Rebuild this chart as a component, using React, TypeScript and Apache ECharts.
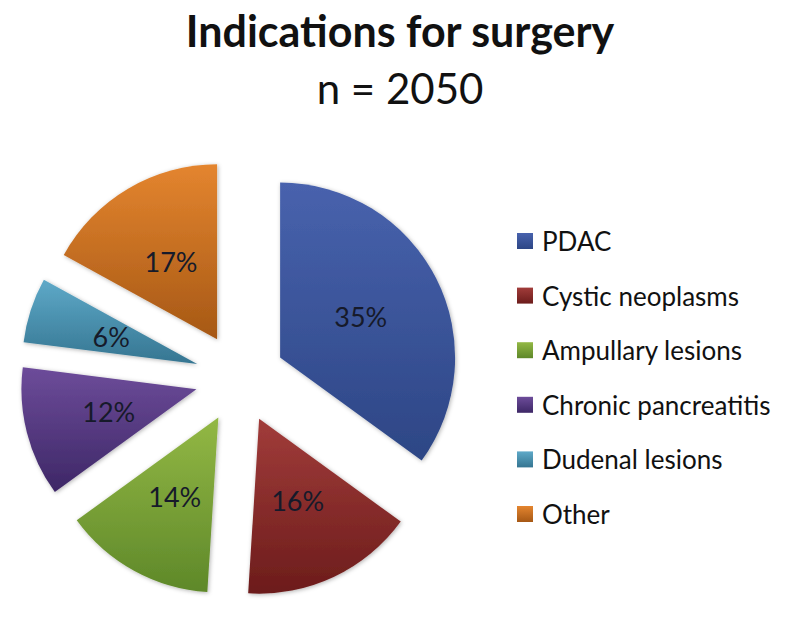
import React, { useEffect, useRef } from "react";
import * as echarts from "echarts";

const categories = ["PDAC", "Cystic neoplasms", "Ampullary lesions", "Chronic pancreatitis", "Dudenal lesions", "Other"];
const values = [35, 16, 14, 12, 6, 17];
const topColors = ["#4862ad", "#a13c3a", "#93b845", "#6d4c9a", "#5ea9c8", "#e4852f"];
const bottomColors = ["#2d4685", "#6c1c1b", "#5e8829", "#3d2766", "#357591", "#a65815"];
const titleText = "Indications for surgery";
const subtitleText = "n = 2050";

const FONT = "Lato, 'Open Sans', sans-serif";

export default function App() {
  const ref = useRef<HTMLDivElement>(null);
  useEffect(() => {
    document.body.style.margin = "0";
    const chart = echarts.init(ref.current!, null, { renderer: "svg" });
    const data = categories.map((name, i) => ({
      name,
      value: values[i],
      selected: true,
      itemStyle: {
        color: new echarts.graphic.LinearGradient(0, 0, 0, 1, [
          { offset: 0, color: topColors[i] },
          { offset: 1, color: bottomColors[i] },
        ]),
      },
    }));
    chart.setOption({
      animation: false,
      backgroundColor: "#ffffff",
      title: [
        {
          text: titleText,
          left: "center",
          top: 4,
          textStyle: { fontFamily: FONT, fontSize: 43, fontWeight: "bold", color: "#111" },
        },
        {
          text: subtitleText,
          left: "center",
          top: 62,
          textStyle: { fontFamily: FONT, fontSize: 42, fontWeight: "normal", color: "#111" },
        },
      ],
      legend: {
        orient: "vertical",
        left: 512,
        top: 223,
        itemWidth: 16,
        itemHeight: 16,
        itemGap: 28.6,
        icon: "rect",
        selectedMode: false,
        textStyle: { fontFamily: FONT, fontSize: 26, color: "#111", lineHeight: 26, padding: [0, 0, 0, 4] },
        data: categories,
      },
      series: [
        {
          type: "pie",
          center: [240, 378],
          radius: [0, 175],
          startAngle: 90,
          clockwise: true,
          selectedMode: "multiple",
          selectedOffset: 45,
          label: {
            show: true,
            position: "inside",
            formatter: (p: any) => p.value + "%",
            fontFamily: FONT,
            fontSize: 27,
            color: "#161a2a",
          },
          labelLine: { show: false },
          itemStyle: {
            shadowBlur: 4,
            shadowColor: "rgba(0,0,0,0.3)",
            shadowOffsetX: 1,
            shadowOffsetY: 1,
          },
          emphasis: { disabled: true },
          data,
        },
      ],
    });
    return () => chart.dispose();
  }, []);
  return <div ref={ref} style={{ width: 800, height: 621 }} />;
}
